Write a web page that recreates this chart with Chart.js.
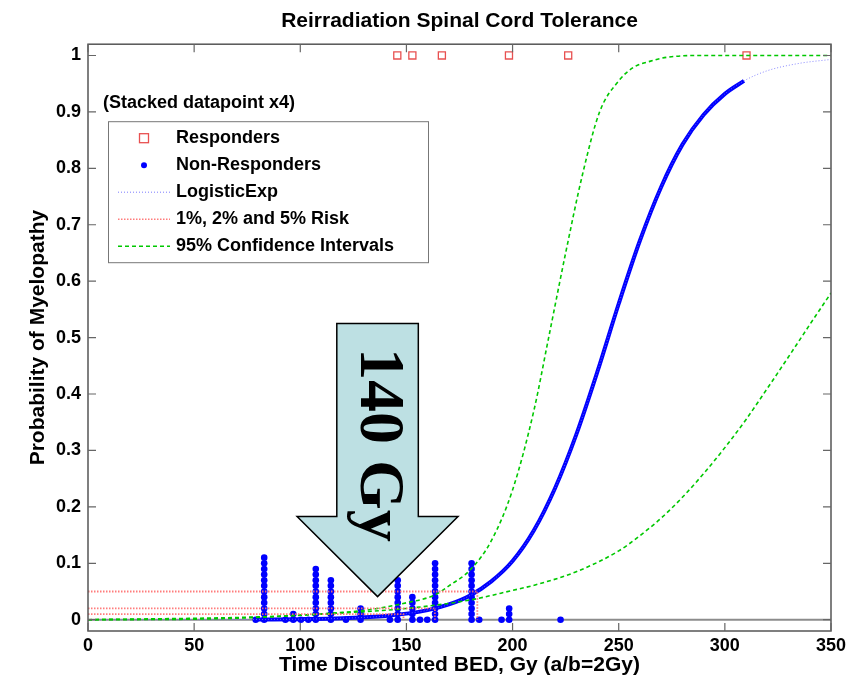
<!DOCTYPE html>
<html>
<head>
<meta charset="utf-8">
<script src="https://cdn.jsdelivr.net/npm/chart.js@4/dist/chart.umd.min.js"></script>
<style>
html,body{margin:0;padding:0;background:#fff;}
#wrap{width:868px;height:687px;}
</style>
</head>
<body>
<div id="wrap"><canvas id="chart"></canvas></div>
<script>
// axis ticks
const xTicks=[0,50,100,150,200,250,300,350];
const yTicks=[0,0.1,0.2,0.3,0.4,0.5,0.6,0.7,0.8,0.9,1];

// responders, all drawn at P = 1
const responderDose=[145.7,152.8,166.7,198.3,226.2,310.2];
const responderProb=[1,1,1,1,1,1];

// non-responders: dose of each stack and how many dots are stacked there
const nonRespDose=[79,83,93,96.7,100.3,103.8,107.3,114.4,121.5,128.4,142.2,145.9,152.8,156.4,159.8,163.5,180.7,184.3,194.8,198.4,222.6];
const nonRespStack=[1,12,1,2,1,1,10,8,1,3,1,8,5,1,1,11,11,1,1,3,1];
const stackStep=0.01;

// LogisticExp fit
const fitDose=[0,20,40,60,80,100,120,140,160,170,180,190,200,210,220,230,240,250,260,270,280,290,300,309,320,335,350];
const fitProb=[0,0,0.0001,0.0002,0.0004,0.001,0.0026,0.0066,0.017,0.027,0.043,0.068,0.104,0.158,0.233,0.328,0.44,0.56,0.672,0.767,0.842,0.895,0.932,0.955,0.973,0.986,0.993];
const fitRange=[80,309]; // thick part, over the data

// 95% confidence intervals
const ciUpperDose=[0,50,80,100,120,133,150,163.5,170,180,190,200,210,217,225,233,241,250,257,265,273,290,350];
const ciUpperProb=[0,0.001,0.004,0.008,0.013,0.018,0.03,0.044,0.06,0.088,0.14,0.23,0.37,0.5,0.65,0.79,0.9,0.955,0.979,0.99,0.997,1,1];
const ciLowerDose=[0,80,120,150,180,200,211,230,250,260,270,280,290,300,310,320,330,340,350];
const ciLowerProb=[0,0.005,0.012,0.02,0.035,0.052,0.062,0.085,0.122,0.149,0.18,0.217,0.259,0.305,0.355,0.41,0.466,0.523,0.579];

// 1%, 2% and 5% risk
const riskLevels=[0.01,0.02,0.05];
const riskDose=[148.6,163.4,183.4];

const pts=(xs,ys)=>xs.map((x,i)=>({x:x,y:ys[i]}));

let nonRespPts=[];
nonRespDose.forEach((d,i)=>{
    for(let k=0;k<nonRespStack[i];k++) nonRespPts.push({x:d,y:k*stackStep});
});

const fitPts=pts(fitDose,fitProb);
const fitThick=fitPts.filter(p=>p.x>=fitRange[0]&&p.x<=fitRange[1]);

const riskColor='rgba(255,110,110,0.9)';
const greenColor='#00c800';

let datasets=[];
riskLevels.forEach((r,i)=>{
    datasets.push({
        label:'risk'+i,
        data:[{x:0,y:r},{x:riskDose[i],y:r},{x:riskDose[i],y:0}],
        borderColor:riskColor,borderWidth:1.8,borderDash:[1.5,1.5],
        pointRadius:0,showLine:true,fill:false
    });
});
datasets.push({
    label:'ciUpper',data:pts(ciUpperDose,ciUpperProb),
    borderColor:greenColor,borderWidth:1.6,borderDash:[4,3],
    pointRadius:0,showLine:true,cubicInterpolationMode:'monotone'
});
datasets.push({
    label:'ciLower',data:pts(ciLowerDose,ciLowerProb),
    borderColor:greenColor,borderWidth:1.6,borderDash:[4,3],
    pointRadius:0,showLine:true,cubicInterpolationMode:'monotone'
});
datasets.push({
    label:'fitThin',data:fitPts,
    borderColor:'rgba(110,110,255,0.8)',borderWidth:1,borderDash:[1,2],
    pointRadius:0,showLine:true,cubicInterpolationMode:'monotone'
});
datasets.push({
    label:'fitThick',data:fitThick,
    borderColor:'#0000ff',borderWidth:4,
    pointRadius:0,showLine:true,cubicInterpolationMode:'monotone'
});
datasets.push({
    label:'Non-Responders',data:nonRespPts,
    backgroundColor:'#0000ff',borderColor:'#0000ff',borderWidth:0,
    pointRadius:3.3,pointStyle:'circle',showLine:false
});
datasets.push({
    label:'Responders',data:pts(responderDose,responderProb),
    backgroundColor:'rgba(0,0,0,0)',borderColor:'#e85050',borderWidth:1.3,
    pointRadius:5,pointStyle:'rect',showLine:false
});

const legendItems=[
    {text:'Responders',kind:'square'},
    {text:'Non-Responders',kind:'dot'},
    {text:'LogisticExp',kind:'line',color:'rgba(110,110,255,0.9)',dash:[1,2],width:1},
    {text:'1%, 2% and 5% Risk',kind:'line',color:riskColor,dash:[1.5,1.5],width:1.5},
    {text:'95% Confidence Intervals',kind:'line',color:greenColor,dash:[4,3],width:1.5}
];

// annotation arrow, in data units
const arrow={dose:136.4,top:0.525,headBase:0.183,tip:0.041,shaftHalf:19.2,headHalf:37.9,label:'140 Gy',labelY:0.31};

const decor={
    id:'decor',
    beforeDatasetsDraw(chart){
        const {ctx,chartArea:a,scales:{x,y}}=chart;
        ctx.save();
        ctx.strokeStyle='#8c8c8c';ctx.lineWidth=2;
        ctx.beginPath();
        ctx.moveTo(a.left,y.getPixelForValue(0));
        ctx.lineTo(a.right,y.getPixelForValue(0));
        ctx.stroke();
        ctx.restore();
    },
    afterDatasetsDraw(chart){
        const {ctx,chartArea:a,scales:{x,y}}=chart;
        // arrow
        const cx=x.getPixelForValue(arrow.dose);
        const sw=x.getPixelForValue(arrow.dose+arrow.shaftHalf)-cx;
        const hw=x.getPixelForValue(arrow.dose+arrow.headHalf)-cx;
        const yt=y.getPixelForValue(arrow.top);
        const yh=y.getPixelForValue(arrow.headBase);
        const yp=y.getPixelForValue(arrow.tip);
        ctx.save();
        ctx.beginPath();
        ctx.moveTo(cx-sw,yt);ctx.lineTo(cx+sw,yt);ctx.lineTo(cx+sw,yh);
        ctx.lineTo(cx+hw,yh);ctx.lineTo(cx,yp);ctx.lineTo(cx-hw,yh);
        ctx.lineTo(cx-sw,yh);ctx.closePath();
        ctx.fillStyle='#bde0e3';ctx.fill();
        ctx.strokeStyle='#000';ctx.lineWidth=1.5;ctx.stroke();
        ctx.translate(cx,y.getPixelForValue(arrow.labelY));
        ctx.rotate(Math.PI/2);
        ctx.fillStyle='#000';
        ctx.font='bold 64px "Liberation Serif", "Times New Roman", serif';
        ctx.textAlign='center';ctx.textBaseline='middle';
        ctx.fillText(arrow.label,0,0);
        ctx.restore();
        // box and inward ticks
        ctx.save();
        ctx.strokeStyle='#555';ctx.lineWidth=1.5;
        ctx.strokeRect(a.left,a.top,a.right-a.left,a.bottom-a.top);
        ctx.strokeStyle='#666';ctx.lineWidth=1.2;
        ctx.beginPath();
        xTicks.forEach(v=>{
            const px=x.getPixelForValue(v);
            ctx.moveTo(px,a.bottom);ctx.lineTo(px,a.bottom-8);
            ctx.moveTo(px,a.top);ctx.lineTo(px,a.top+8);
        });
        yTicks.forEach(v=>{
            const py=y.getPixelForValue(v);
            ctx.moveTo(a.left,py);ctx.lineTo(a.left+8,py);
            ctx.moveTo(a.right,py);ctx.lineTo(a.right-8,py);
        });
        ctx.stroke();
        ctx.restore();
    },
    afterDraw(chart){
        const {ctx,chartArea:a}=chart;
        ctx.save();
        ctx.fillStyle='#000';
        ctx.font='bold 18px "Liberation Sans", Arial, sans-serif';
        ctx.textBaseline='middle';ctx.textAlign='left';
        ctx.fillText('(Stacked datapoint x4)',a.left+15,a.top+59);
        // legend
        const bx=a.left+20,by=a.top+77,bw=320,bh=141;
        ctx.fillStyle='#fff';ctx.fillRect(bx,by,bw,bh);
        ctx.strokeStyle='#777';ctx.lineWidth=1;
        ctx.strokeRect(bx+0.5,by+0.5,bw,bh);
        legendItems.forEach((it,i)=>{
            const yy=by+17+i*27;
            const sx=bx+36;
            if(it.kind==='square'){
                ctx.strokeStyle='#e85050';ctx.lineWidth=1.3;
                ctx.strokeRect(sx-4.5,yy-4.5,9,9);
            }else if(it.kind==='dot'){
                ctx.fillStyle='#0000ff';
                ctx.beginPath();ctx.arc(sx,yy,3,0,Math.PI*2);ctx.fill();
            }else{
                ctx.strokeStyle=it.color;ctx.lineWidth=it.width;ctx.setLineDash(it.dash);
                ctx.beginPath();ctx.moveTo(bx+10,yy);ctx.lineTo(bx+62,yy);ctx.stroke();
                ctx.setLineDash([]);
            }
            ctx.fillStyle='#000';
            ctx.font='bold 18px "Liberation Sans", Arial, sans-serif';
            ctx.fillText(it.text,bx+68,yy);
        });
        ctx.restore();
    }
};

const tickFont={family:'"Liberation Sans", Arial, sans-serif',size:18,weight:'bold'};
const titleFont={family:'"Liberation Sans", Arial, sans-serif',size:21,weight:'bold'};

new Chart(document.getElementById('chart'),{
    type:'scatter',
    data:{datasets:datasets},
    options:{
        responsive:true,maintainAspectRatio:false,animation:false,
        layout:{padding:{left:0,right:37,top:0,bottom:0}},
        plugins:{
            legend:{display:false},tooltip:{enabled:false},
            title:{display:true,text:'Reirradiation Spinal Cord Tolerance',fullSize:false,
                color:'#000',font:{family:'"Liberation Sans", Arial, sans-serif',size:21,weight:'bold'},
                padding:{top:9,bottom:10}}
        },
        scales:{
            x:{type:'linear',min:0,max:350,
                afterBuildTicks:s=>{s.ticks=xTicks.map(v=>({value:v}));},
                afterFit:s=>{s.height=56;},
                grid:{display:false,drawTicks:false},border:{display:false},
                ticks:{color:'#000',font:tickFont,padding:4,maxRotation:0,autoSkip:false},
                title:{display:true,text:'Time Discounted BED, Gy (a/b=2Gy)',color:'#000',font:titleFont,padding:{top:0,bottom:9}}
            },
            y:{type:'linear',min:-0.02,max:1.02,
                afterBuildTicks:s=>{s.ticks=yTicks.map(v=>({value:v}));},
                afterFit:s=>{s.width=88;},
                grid:{display:false,drawTicks:false},border:{display:false},
                ticks:{color:'#000',font:tickFont,padding:7,autoSkip:false,callback:v=>String(+v.toFixed(1))},
                title:{display:true,text:'Probability of Myelopathy',color:'#000',font:titleFont,padding:{top:26,bottom:0}}
            }
        }
    },
    plugins:[decor]
});
</script>
</body>
</html>
